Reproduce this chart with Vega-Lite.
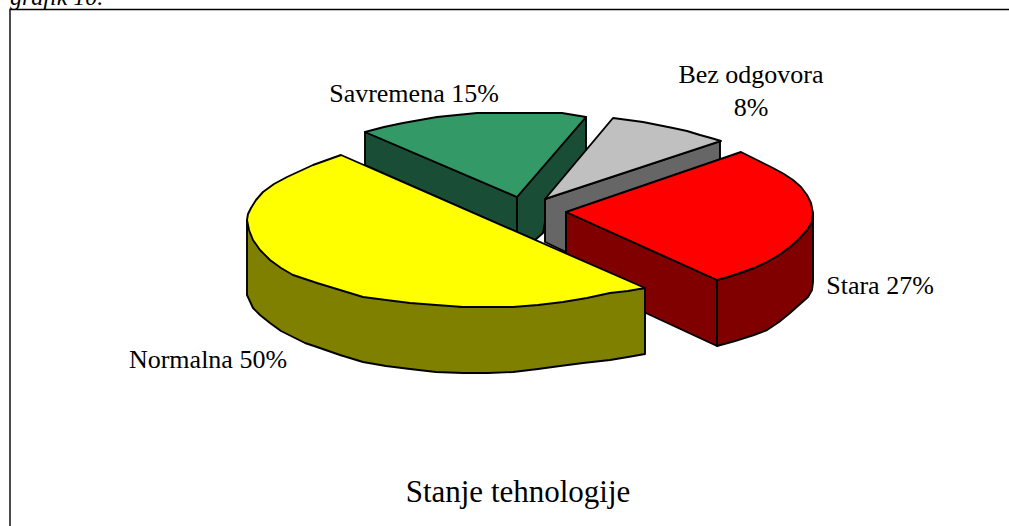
{"$schema":"https://vega.github.io/schema/vega-lite/v6.json","width":1009,"height":526,"padding":0,"autosize":{"type":"none"},"background":"white","config":{"view":{"stroke":null}},
"layer":[
{"data":{"values":[{"seq":1,"x":10,"y":526},{"seq":2,"x":10,"y":9.5},{"seq":3,"x":1009,"y":9.5}]},"mark":{"type":"line","stroke":"black","strokeWidth":1.4},"encoding":{"x":{"field":"x","type":"quantitative","scale":{"domain":[0,1009]},"axis":null},"y":{"field":"y","type":"quantitative","scale":{"domain":[526,0]},"axis":null},"order":{"field":"seq"}}},
{"data":{"values":[
{"part":"Savremena right","seq":1,"x":517,"y":197},{"part":"Savremena right","seq":2,"x":586,"y":117},{"part":"Savremena right","seq":3,"x":586,"y":152},{"part":"Savremena right","seq":4,"x":550,"y":195},{"part":"Savremena right","seq":5,"x":543,"y":233},{"part":"Savremena right","seq":6,"x":535,"y":240},{"part":"Savremena right","seq":7,"x":517,"y":232},
{"part":"Savremena left","seq":1,"x":365,"y":132},{"part":"Savremena left","seq":2,"x":365,"y":165},{"part":"Savremena left","seq":3,"x":517,"y":232},{"part":"Savremena left","seq":4,"x":517,"y":197},
{"part":"Savremena","seq":1,"x":365,"y":132},{"part":"Savremena","seq":2,"x":384,"y":127},{"part":"Savremena","seq":3,"x":403,"y":123},{"part":"Savremena","seq":4,"x":420,"y":120},{"part":"Savremena","seq":5,"x":437,"y":117},{"part":"Savremena","seq":6,"x":457,"y":115},{"part":"Savremena","seq":7,"x":477,"y":113},{"part":"Savremena","seq":8,"x":520,"y":113},{"part":"Savremena","seq":9,"x":562,"y":113},{"part":"Savremena","seq":10,"x":586,"y":117},{"part":"Savremena","seq":11,"x":517,"y":197},
{"part":"Bez odgovora side","seq":1,"x":545,"y":199},{"part":"Bez odgovora side","seq":2,"x":720,"y":141},{"part":"Bez odgovora side","seq":3,"x":720,"y":180},{"part":"Bez odgovora side","seq":4,"x":566,"y":252},{"part":"Bez odgovora side","seq":5,"x":545,"y":242},
{"part":"Bez odgovora","seq":1,"x":613,"y":118},{"part":"Bez odgovora","seq":2,"x":628,"y":120},{"part":"Bez odgovora","seq":3,"x":643,"y":122},{"part":"Bez odgovora","seq":4,"x":658,"y":125},{"part":"Bez odgovora","seq":5,"x":673,"y":128},{"part":"Bez odgovora","seq":6,"x":687,"y":131},{"part":"Bez odgovora","seq":7,"x":700,"y":135},{"part":"Bez odgovora","seq":8,"x":711,"y":138},{"part":"Bez odgovora","seq":9,"x":721,"y":141},{"part":"Bez odgovora","seq":10,"x":545,"y":199},
{"part":"Stara left","seq":1,"x":566,"y":212},{"part":"Stara left","seq":2,"x":717,"y":280},{"part":"Stara left","seq":3,"x":717,"y":346},{"part":"Stara left","seq":4,"x":566,"y":276},
{"part":"Stara right","seq":1,"x":717,"y":280},{"part":"Stara right","seq":2,"x":728,"y":277},{"part":"Stara right","seq":3,"x":740,"y":273},{"part":"Stara right","seq":4,"x":754,"y":268},{"part":"Stara right","seq":5,"x":767,"y":262},{"part":"Stara right","seq":6,"x":779,"y":255},{"part":"Stara right","seq":7,"x":790,"y":247},{"part":"Stara right","seq":8,"x":799,"y":239},{"part":"Stara right","seq":9,"x":807,"y":230},{"part":"Stara right","seq":10,"x":812,"y":222},{"part":"Stara right","seq":11,"x":813,"y":213},{"part":"Stara right","seq":12,"x":813,"y":282},{"part":"Stara right","seq":13,"x":812,"y":290},{"part":"Stara right","seq":14,"x":808,"y":297},{"part":"Stara right","seq":15,"x":799,"y":305},{"part":"Stara right","seq":16,"x":790,"y":313},{"part":"Stara right","seq":17,"x":779,"y":322},{"part":"Stara right","seq":18,"x":767,"y":330},{"part":"Stara right","seq":19,"x":754,"y":335},{"part":"Stara right","seq":20,"x":735,"y":341},{"part":"Stara right","seq":21,"x":717,"y":346},
{"part":"Stara","seq":1,"x":566,"y":212},{"part":"Stara","seq":2,"x":741,"y":152},{"part":"Stara","seq":3,"x":749,"y":156},{"part":"Stara","seq":4,"x":757,"y":160},{"part":"Stara","seq":5,"x":765,"y":164},{"part":"Stara","seq":6,"x":773,"y":168},{"part":"Stara","seq":7,"x":784,"y":174},{"part":"Stara","seq":8,"x":793,"y":180},{"part":"Stara","seq":9,"x":801,"y":187},{"part":"Stara","seq":10,"x":807,"y":195},{"part":"Stara","seq":11,"x":811,"y":203},{"part":"Stara","seq":12,"x":813,"y":213},{"part":"Stara","seq":13,"x":812,"y":222},{"part":"Stara","seq":14,"x":807,"y":230},{"part":"Stara","seq":15,"x":799,"y":239},{"part":"Stara","seq":16,"x":790,"y":247},{"part":"Stara","seq":17,"x":779,"y":255},{"part":"Stara","seq":18,"x":767,"y":262},{"part":"Stara","seq":19,"x":754,"y":268},{"part":"Stara","seq":20,"x":740,"y":273},{"part":"Stara","seq":21,"x":728,"y":277},{"part":"Stara","seq":22,"x":717,"y":280},
{"part":"Normalna side","seq":1,"x":247,"y":220},{"part":"Normalna side","seq":2,"x":247,"y":295},{"part":"Normalna side","seq":3,"x":253,"y":308},{"part":"Normalna side","seq":4,"x":260,"y":315},{"part":"Normalna side","seq":5,"x":270,"y":323},{"part":"Normalna side","seq":6,"x":281,"y":331},{"part":"Normalna side","seq":7,"x":293,"y":337},{"part":"Normalna side","seq":8,"x":305,"y":343},{"part":"Normalna side","seq":9,"x":317,"y":347},{"part":"Normalna side","seq":10,"x":340,"y":355},{"part":"Normalna side","seq":11,"x":363,"y":362},{"part":"Normalna side","seq":12,"x":386,"y":366},{"part":"Normalna side","seq":13,"x":410,"y":369},{"part":"Normalna side","seq":14,"x":436,"y":372},{"part":"Normalna side","seq":15,"x":463,"y":373},{"part":"Normalna side","seq":16,"x":488,"y":373},{"part":"Normalna side","seq":17,"x":513,"y":372},{"part":"Normalna side","seq":18,"x":538,"y":369},{"part":"Normalna side","seq":19,"x":560,"y":366},{"part":"Normalna side","seq":20,"x":583,"y":363},{"part":"Normalna side","seq":21,"x":610,"y":360},{"part":"Normalna side","seq":22,"x":628,"y":357},{"part":"Normalna side","seq":23,"x":645,"y":354},{"part":"Normalna side","seq":24,"x":645,"y":288},{"part":"Normalna side","seq":25,"x":463,"y":307},{"part":"Normalna side","seq":26,"x":317,"y":283},{"part":"Normalna side","seq":27,"x":270,"y":260},
{"part":"Normalna","seq":1,"x":341,"y":155},{"part":"Normalna","seq":2,"x":327,"y":160},{"part":"Normalna","seq":3,"x":313,"y":165},{"part":"Normalna","seq":4,"x":300,"y":171},{"part":"Normalna","seq":5,"x":287,"y":177},{"part":"Normalna","seq":6,"x":274,"y":184},{"part":"Normalna","seq":7,"x":263,"y":192},{"part":"Normalna","seq":8,"x":256,"y":200},{"part":"Normalna","seq":9,"x":251,"y":208},{"part":"Normalna","seq":10,"x":248,"y":214},{"part":"Normalna","seq":11,"x":247,"y":220},{"part":"Normalna","seq":12,"x":249,"y":230},{"part":"Normalna","seq":13,"x":253,"y":240},{"part":"Normalna","seq":14,"x":260,"y":250},{"part":"Normalna","seq":15,"x":270,"y":260},{"part":"Normalna","seq":16,"x":281,"y":268},{"part":"Normalna","seq":17,"x":293,"y":275},{"part":"Normalna","seq":18,"x":305,"y":279},{"part":"Normalna","seq":19,"x":317,"y":283},{"part":"Normalna","seq":20,"x":340,"y":290},{"part":"Normalna","seq":21,"x":363,"y":297},{"part":"Normalna","seq":22,"x":386,"y":300},{"part":"Normalna","seq":23,"x":410,"y":303},{"part":"Normalna","seq":24,"x":436,"y":305},{"part":"Normalna","seq":25,"x":463,"y":307},{"part":"Normalna","seq":26,"x":488,"y":307},{"part":"Normalna","seq":27,"x":513,"y":307},{"part":"Normalna","seq":28,"x":538,"y":305},{"part":"Normalna","seq":29,"x":563,"y":302},{"part":"Normalna","seq":30,"x":587,"y":298},{"part":"Normalna","seq":31,"x":610,"y":293},{"part":"Normalna","seq":32,"x":628,"y":291},{"part":"Normalna","seq":33,"x":645,"y":288}
]},"mark":{"type":"line","interpolate":"linear-closed","stroke":"black","strokeWidth":1.9,"strokeJoin":"round"},"encoding":{"x":{"field":"x","type":"quantitative","scale":{"domain":[0,1009]},"axis":null},"y":{"field":"y","type":"quantitative","scale":{"domain":[526,0]},"axis":null},"order":{"field":"seq"},"fill":{"field":"part","type":"nominal","legend":null,"scale":{"domain":["Bez odgovora side","Bez odgovora","Savremena right","Savremena left","Savremena","Stara left","Stara right","Stara","Normalna side","Normalna"],"range":["#666666","#c0c0c0","#1a4d36","#1a4d36","#339966","#800000","#800000","#ff0000","#808000","#ffff00"]}}}},
{"data":{"values":[{"t":"Savremena 15%","x":414,"y":94},{"t":"Bez odgovora","x":751,"y":75},{"t":"8%","x":751,"y":108},{"t":"Stara 27%","x":880,"y":286},{"t":"Normalna 50%","x":208,"y":360}]},"mark":{"type":"text","font":"Liberation Serif","fontSize":26,"align":"center","color":"black"},"encoding":{"x":{"field":"x","type":"quantitative","scale":{"domain":[0,1009]},"axis":null},"y":{"field":"y","type":"quantitative","scale":{"domain":[526,0]},"axis":null},"text":{"field":"t"}}},
{"data":{"values":[{"t":"Stanje tehnologije","x":518,"y":493}]},"mark":{"type":"text","font":"Liberation Serif","fontSize":31,"align":"center","color":"black"},"encoding":{"x":{"field":"x","type":"quantitative","scale":{"domain":[0,1009]},"axis":null},"y":{"field":"y","type":"quantitative","scale":{"domain":[526,0]},"axis":null},"text":{"field":"t"}}},
{"data":{"values":[{"t":"grafik 10.","x":10,"y":-2}]},"mark":{"type":"text","font":"Liberation Serif","fontStyle":"italic","fontSize":24,"align":"left","color":"black"},"encoding":{"x":{"field":"x","type":"quantitative","scale":{"domain":[0,1009]},"axis":null},"y":{"field":"y","type":"quantitative","scale":{"domain":[526,0]},"axis":null},"text":{"field":"t"}}}
]}
